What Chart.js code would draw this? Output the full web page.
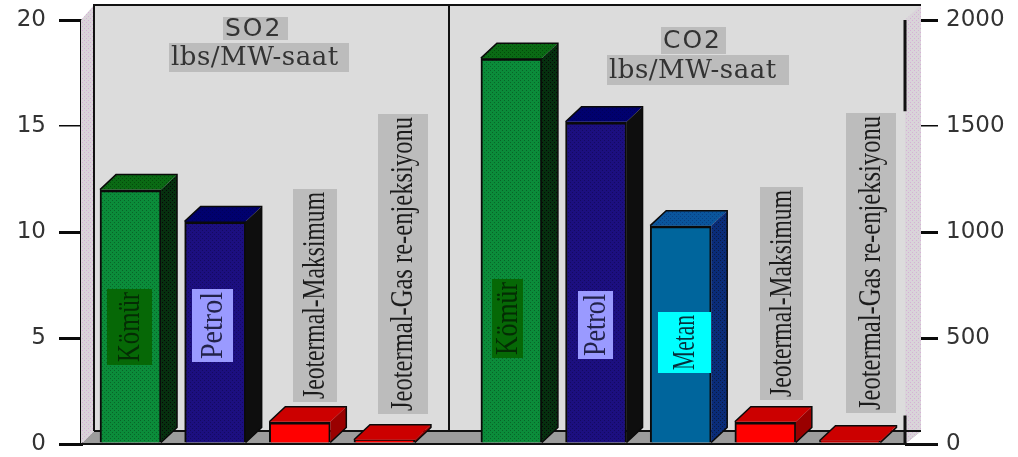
<!DOCTYPE html>
<html>
<head>
<meta charset="utf-8">
<style>
	html, body { margin: 0; padding: 0; background: #fff; }
	canvas { display: block; filter: blur(0.55px); }
</style>
<script src="https://cdn.jsdelivr.net/npm/chart.js@4/dist/chart.umd.min.js"></script>
</head>
<body>
<canvas id="chart" width="1018" height="457"></canvas>
<script>
// Values.
const so2Categories = ['Kömür', 'Petrol', 'Jeotermal-Maksimum', 'Jeotermal-Gas re-enjeksiyonu'];
const so2Values = [12, 10.5, 1.05, 0.2];
const co2Categories = ['Kömür', 'Petrol', 'Metan', 'Jeotermal-Maksimum', 'Jeotermal-Gas re-enjeksiyonu'];
const co2Values = [1820, 1520, 1030, 105, 15];
const so2Ticks = [0, 5, 10, 15, 20];
const co2Ticks = [0, 500, 1000, 1500, 2000];
// Slots along the hidden x axis, the gap between the two groups is 1.5 bars wide.
const so2Slots = [0, 2, 4, 6];
const co2Slots = [9, 11, 13, 15, 17];

const fuelStyles = {
	'Kömür': { front: ['#0b8c3a', '#086428'], top: ['#0a6a14', '#044a0a'], side: ['#06300f', '#060806'] },
	'Petrol': { front: ['#1c0f80', '#140a60'], top: ['#00006e', '#00005a'], side: ['#0e0e0e', '#0e0e0e'] },
	'Metan': { front: ['#00659c', '#00659c'], top: ['#0a559c', '#083f80'], side: ['#0a2c78', '#0a1a40'] },
	'Jeotermal-Maksimum': { front: ['#ff0000', '#ff0000'], top: ['#cc0000', '#cc0000'], side: ['#9a0000', '#9a0000'] },
	'Jeotermal-Gas re-enjeksiyonu': { front: ['#ff0000', '#ff0000'], top: ['#cc0000', '#cc0000'], side: ['#9a0000', '#9a0000'] },
};

const DEPTH_X = 16;
const DEPTH_Y = 15;

// Text boxes as [text, left, top, right, bottom, box colour, text colour].
const verticalLabels = [
	['Kömür', 107, 289, 152, 365, '#066806', '#042c04'],
	['Petrol', 192, 289, 233, 362, '#9a9aff', '#22224a'],
	['Jeotermal-Maksimum', 293, 189, 337, 402, '#bcbcbc', '#1c1c1c'],
	['Jeotermal-Gas re-enjeksiyonu', 378, 114, 428, 414, '#bcbcbc', '#1c1c1c'],
	['Kömür', 492, 279, 523, 358, '#066806', '#042c04'],
	['Petrol', 578, 291, 613, 359, '#9a9aff', '#22224a'],
	['Metan', 658, 312, 711, 373, '#00ffff', '#06303c'],
	['Jeotermal-Maksimum', 760, 187, 803, 400, '#bcbcbc', '#1c1c1c'],
	['Jeotermal-Gas re-enjeksiyonu', 846, 113, 896, 413, '#bcbcbc', '#1c1c1c'],
];
const titleLabels = [
	['SO2', 223, 17, 288, 40, 'DejaVu Sans', 25, '2px'],
	['lbs/MW-saat', 169, 43, 349, 72, 'DejaVu Serif', 26, '0.5px'],
	['CO2', 661, 27, 726, 54, 'DejaVu Sans', 25, '2px'],
	['lbs/MW-saat', 607, 55, 789, 85, 'DejaVu Serif', 26, '0.5px'],
];

// Two colour dither like the old chart bitmap.
function dither(colors) {
	const tile = document.createElement('canvas');
	tile.width = 4;
	tile.height = 4;
	const c = tile.getContext('2d');
	c.fillStyle = colors[0];
	c.fillRect(0, 0, 4, 4);
	c.fillStyle = colors[1];
	c.fillRect(0, 0, 1, 1);
	c.fillRect(2, 2, 1, 1);
	return c.createPattern(tile, 'repeat');
}

function shape(ctx, points, fill) {
	ctx.beginPath();
	points.forEach(function(p, i) {
		if (i === 0) {
			ctx.moveTo(p[0], p[1]);
		} else {
			ctx.lineTo(p[0], p[1]);
		}
	});
	ctx.closePath();
	ctx.fillStyle = fill;
	ctx.fill();
}

// Walls and floor behind the bars.
const roomPlugin = {
	id: 'room',
	beforeDatasetsDraw: function(chart) {
		const ctx = chart.ctx;
		const a = chart.chartArea;
		const backLeft = a.left + 13;
		const backRight = a.right + 16;
		const backTop = a.top - 15;
		const backBottom = a.bottom - 13;

		ctx.save();
		shape(ctx, [[backLeft, backTop], [backRight, backTop], [backRight, backBottom], [backLeft, backBottom]], '#dcdcdc');
		shape(ctx, [[a.left, a.bottom], [backLeft, backBottom], [backRight, backBottom], [a.right, a.bottom]], '#9c9c9c');
		const wall = dither(['#d9d4d9', '#d6b0d6']);
		shape(ctx, [[a.left, a.top], [backLeft, backTop], [backLeft, backBottom], [a.left, a.bottom]], wall);
		shape(ctx, [[a.right, a.top], [backRight, backTop], [backRight, backBottom], [a.right, a.bottom]], wall);

		ctx.strokeStyle = '#111';
		ctx.lineWidth = 2;
		ctx.beginPath();
		ctx.moveTo(backLeft, backBottom);
		ctx.lineTo(backLeft, backTop);
		ctx.lineTo(backRight, backTop);
		ctx.moveTo(backLeft, backBottom);
		ctx.lineTo(backRight, backBottom);
		ctx.moveTo(449, backTop);
		ctx.lineTo(449, backBottom);
		ctx.stroke();

		// The right axis line only shows at both ends.
		const y1 = chart.scales.y1;
		ctx.lineWidth = 3;
		ctx.beginPath();
		ctx.moveTo(a.right, y1.getPixelForValue(2000));
		ctx.lineTo(a.right, y1.getPixelForValue(1570));
		ctx.moveTo(a.right, y1.getPixelForValue(135));
		ctx.lineTo(a.right, y1.getPixelForValue(0));
		ctx.stroke();
		ctx.lineWidth = 2;
		ctx.beginPath();
		ctx.moveTo(a.left, a.bottom);
		ctx.lineTo(a.right + 33, a.bottom);
		ctx.stroke();
		ctx.restore();
	},
	afterDatasetsDraw: function(chart) {
		const ctx = chart.ctx;
		ctx.save();
		chart.data.datasets.forEach(function(dataset, d) {
			chart.getDatasetMeta(d).data.forEach(function(bar, i) {
				const style = fuelStyles[dataset.categories[i]];
				const left = bar.x - bar.width / 2;
				const right = bar.x + bar.width / 2;
				const topFace = [[left, bar.y], [left + DEPTH_X, bar.y - DEPTH_Y], [right + DEPTH_X, bar.y - DEPTH_Y], [right, bar.y]];
				const sideFace = [[right, bar.y], [right + DEPTH_X, bar.y - DEPTH_Y], [right + DEPTH_X, bar.base - DEPTH_Y], [right, bar.base]];
				shape(ctx, topFace, dither(style.top));
				shape(ctx, sideFace, dither(style.side));
				ctx.strokeStyle = '#0a0a0a';
				ctx.lineWidth = 1.5;
				ctx.beginPath();
				ctx.moveTo(left, bar.y);
				ctx.lineTo(left + DEPTH_X, bar.y - DEPTH_Y);
				ctx.lineTo(right + DEPTH_X, bar.y - DEPTH_Y);
				ctx.lineTo(right + DEPTH_X, bar.base - DEPTH_Y);
				ctx.lineTo(right, bar.base);
				ctx.stroke();
			});
		});
		ctx.restore();
	},
	afterDraw: function(chart) {
		const ctx = chart.ctx;
		ctx.save();
		titleLabels.forEach(function(t) {
			ctx.fillStyle = '#bcbcbc';
			ctx.fillRect(t[1], t[2], t[3] - t[1], t[4] - t[2]);
			ctx.fillStyle = '#333';
			ctx.font = t[6] + 'px "' + t[5] + '"';
			ctx.letterSpacing = t[7];
			ctx.textAlign = 'left';
			ctx.textBaseline = 'middle';
			ctx.fillText(t[0], t[1] + 2, (t[2] + t[4]) / 2 + 1, t[3] - t[1] - 6);
		});
		ctx.letterSpacing = '0px';
		verticalLabels.forEach(function(l) {
			const width = l[3] - l[1];
			const height = l[4] - l[2];
			ctx.fillStyle = l[5];
			ctx.fillRect(l[1], l[2], width, height);
			ctx.save();
			ctx.translate((l[1] + l[3]) / 2, l[4] - 3);
			ctx.rotate(-Math.PI / 2);
			ctx.fillStyle = l[6];
			ctx.font = '32px "Liberation Serif"';
			ctx.textAlign = 'left';
			ctx.textBaseline = 'middle';
			ctx.fillText(l[0], 0, 1, height - 6);
			ctx.restore();
		});
		ctx.restore();
	},
};

function makeBars(categories, slots, values, axis) {
	return {
		categories: categories,
		data: values.map(function(v, i) {
			return { x: slots[i], y: v };
		}),
		yAxisID: axis,
		backgroundColor: categories.map(function(c) {
			return dither(fuelStyles[c].front);
		}),
		borderColor: '#0a0a0a',
		borderWidth: { top: 3, left: 2, right: 2, bottom: 0 },
		borderSkipped: false,
		barThickness: 61,
		grouped: false,
	};
}

function tickWidth(ctx) {
	return ctx.tick && (ctx.tick.value === so2Ticks[3] || ctx.tick.value === co2Ticks[3]) ? 1.5 : 3;
}

// Fixed side widths, and no extra room for the half tick labels.
function fitAxis(width) {
	return function(axis) {
		axis.width = width;
		axis.paddingTop = 0;
		axis.paddingBottom = 0;
	};
}

const tickFont = { family: 'DejaVu Sans', size: 23, lineHeight: 1.1 };

new Chart(document.getElementById('chart'), {
	type: 'bar',
	data: {
		datasets: [
			makeBars(so2Categories, so2Slots, so2Values, 'y'),
			makeBars(co2Categories, co2Slots, co2Values, 'y1'),
		],
	},
	plugins: [roomPlugin],
	options: {
		responsive: false,
		animation: false,
		layout: { padding: { top: 20, bottom: 13 } },
		plugins: {
			legend: { display: false },
			tooltip: { enabled: false },
		},
		scales: {
			x: {
				type: 'linear',
				display: false,
				offset: false,
				min: -1.17,
				max: 18.3,
			},
			y: {
				position: 'left',
				min: 0,
				max: 20,
				afterFit: fitAxis(81),
				afterBuildTicks: function(axis) {
					axis.ticks = so2Ticks.map(function(v) { return { value: v }; });
				},
				border: { color: '#0a0a0a', width: 3 },
				grid: { drawOnChartArea: false, color: '#0a0a0a', lineWidth: tickWidth, tickLength: 22 },
				ticks: { color: '#333', padding: 13, font: tickFont, callback: String },
			},
			y1: {
				position: 'right',
				min: 0,
				max: 2000,
				afterFit: fitAxis(113),
				afterBuildTicks: function(axis) {
					axis.ticks = co2Ticks.map(function(v) { return { value: v }; });
				},
				border: { display: false },
				grid: { drawOnChartArea: false, color: '#0a0a0a', lineWidth: tickWidth, tickLength: 33 },
				ticks: { color: '#333', padding: 8, font: tickFont, callback: String },
			},
		},
	},
});
</script>
</body>
</html>
